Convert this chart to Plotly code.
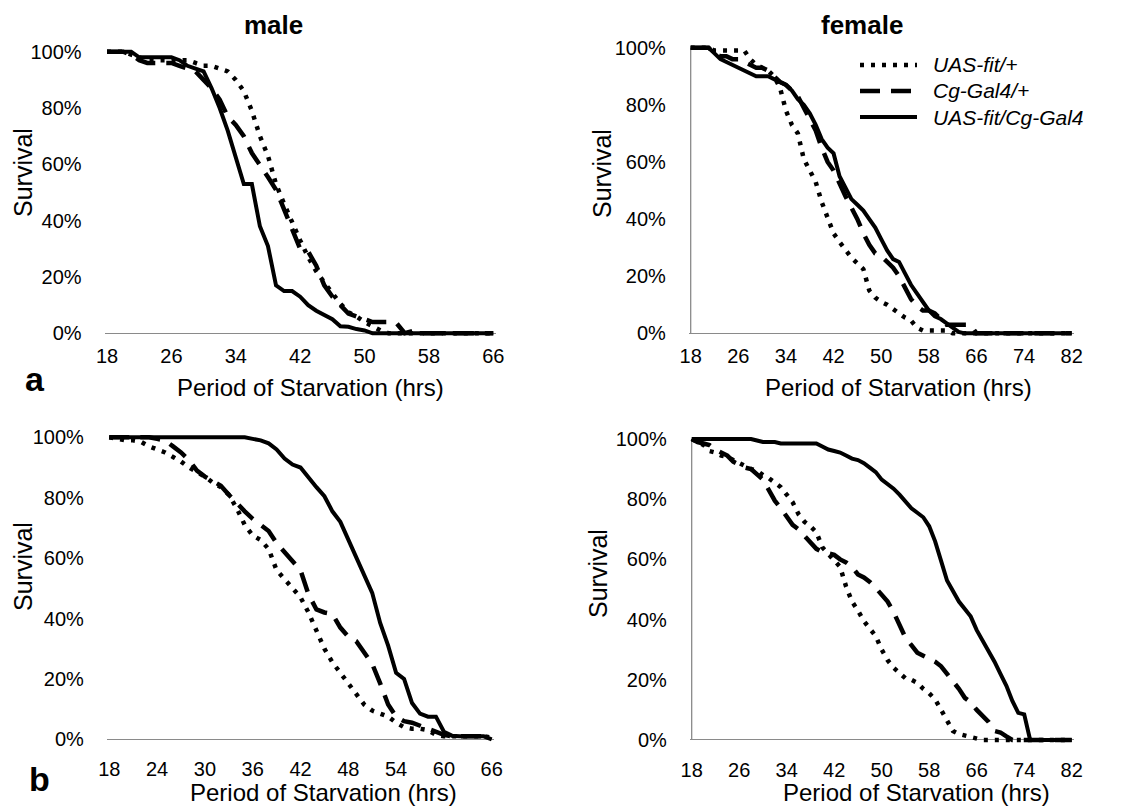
import plotly.graph_objects as go

W, H = 1144, 808
FONT = "Liberation Sans, Arial, sans-serif"

# ---------------- data (survival %) ----------------
series_names = ["UAS-fit/+", "Cg-Gal4/+", "UAS-fit/Cg-Gal4"]

# panel a, male (hours 18..66)
hours_a_male = list(range(18, 67))
a_male_uas = [100, 100, 100, 99, 98, 97, 97, 97, 97, 97, 97, 96, 95, 95, 94, 93, 90, 86, 79, 70,
              63, 53, 46, 39, 33, 27, 22, 18, 14, 10.5, 7.5, 6, 4, 2.5, 1,
              0, 0, 0, 0, 0, 0, 0, 0, 0, 0, 0, 0, 0, 0]
a_male_cg = [100, 100, 100, 99, 97, 96, 96, 96, 96, 95, 94, 93, 90, 87, 83, 77, 74, 70, 64, 60,
             55.5, 51, 44, 38, 30, 29, 24, 17, 13, 10, 7, 6, 5, 4, 4, 4, 3.5, 0, 0.8, 0,
             0, 0, 0, 0, 0, 0, 0, 0, 0]
a_male_cross = [100, 100, 100, 100, 98, 98, 98, 98, 98, 97, 95, 94, 93, 87, 80, 72, 63, 53, 53, 38,
                31, 17, 15, 15, 13, 10, 8, 6.5, 5, 2.5, 2.3, 1.5, 1, 0,
                0, 0, 0, 0, 0, 0, 0, 0, 0, 0, 0, 0, 0, 0, 0]

# panel a, female (hours 18..82)
hours_a_female = list(range(18, 83))
a_female_uas = [100, 100, 100, 100, 99, 99, 99, 99, 99, 99, 96, 94, 93, 92, 90, 86, 78, 73, 70, 61,
                57, 53, 46, 40, 35, 32, 29, 26.5, 24.5, 22.5, 15, 12.5, 11, 10, 8.5, 7, 5.5, 4.5, 2, 1,
                1, 1, 1, 1, 0,
                0, 0, 0, 0, 0, 0, 0, 0, 0, 0, 0, 0, 0, 0, 0, 0, 0, 0, 0, 0]
a_female_cg = [100, 100, 100, 100, 98, 97, 97, 96, 96, 95, 94, 93, 93, 92, 90, 88, 87, 85, 83, 79,
               75, 71, 65, 60, 57, 52, 48, 44, 40, 35, 31, 28, 27, 25, 23, 20, 16, 12, 9.5, 8,
               8, 7, 5, 3, 3, 3, 3, 3, 0,
               0, 0, 0, 0, 0, 0, 0, 0, 0, 0, 0, 0, 0, 0, 0, 0]
a_female_cross = [100, 100, 100, 100, 98, 96, 95, 94, 93, 92, 91, 90, 90, 90, 89, 88, 87, 85, 82, 80,
                  77, 73, 68, 65, 63, 55, 51, 47, 45, 43, 40, 37, 33, 29, 26, 25, 21, 17, 14, 11,
                  8, 6, 5, 3.5, 2, 0.5, 0,
                  0, 0, 0, 0, 0, 0, 0, 0, 0, 0, 0, 0, 0, 0, 0, 0, 0, 0]

# panel b, male (hours 18..66)
hours_b_male = list(range(18, 67))
b_male_uas = [100, 99.5, 99, 99, 98.5, 97, 96, 95, 93.5, 92, 90, 88.5, 87, 85, 83.5, 81, 76.5, 71, 67.5, 66,
              63, 56, 53, 50, 47, 42, 36, 30, 25.5, 22, 18, 15, 11.5, 9.5, 8.5, 7.5, 5.5, 4, 3.5, 3.5,
              3, 1.5, 1, 1, 1, 1, 1, 1, 0.5]
b_male_cg = [100, 100, 100, 100, 100, 100, 99.5, 99, 97, 95, 92.5, 89, 87, 85.5, 84, 81, 78, 75.5, 73, 71,
             69, 65, 62, 59, 56, 48, 43, 42, 41.5, 37, 34, 32.5, 29, 25, 18.5, 11.5, 7.5, 6, 5.5, 4.5,
             3.5, 2.5, 1.5, 1, 1, 1, 1, 1, 0.5]
b_male_cross = [100, 100, 100, 100, 100, 100, 100, 100, 100, 100, 100, 100, 100, 100, 100, 100, 100, 100,
                99.5, 99, 98, 96, 93, 91, 90, 86.5, 83.5, 80.5, 75.5, 72, 66, 60.5, 54.5, 48.5, 38.5, 31,
                22, 20, 12, 8.5, 7.5, 7.5, 2.5, 1.2, 1, 1, 1, 1, 0]

# panel b, female (hours 18..82)
hours_b_female = list(range(18, 83))
b_female_uas = [100, 99, 98, 96, 95.5, 94.5, 94, 93, 92, 91, 90, 89.5, 88, 87, 85.5, 84, 81.5, 79, 75, 72.5,
                71, 69, 64, 62, 59.5, 57.5, 51, 46, 43, 39.5, 37, 34.5, 30, 26.5, 24, 22, 20.5, 20, 19, 17,
                15.5, 13.5, 10, 6, 3, 2, 1.5, 1, 0.5, 0,
                0, 0, 0, 0, 0, 0, 0, 0, 0, 0, 0, 0, 0, 0, 0]
b_female_cg = [100, 99, 98.5, 98, 96.5, 95.5, 94.5, 92.5, 91.3, 90.5, 90, 88, 86.5, 83, 79.5, 77, 74, 71.5, 70, 68,
               66, 63.5, 62.5, 62, 61.5, 60, 59, 57.5, 55, 54, 52.5, 50.5, 48.5, 46, 42.5, 38, 34, 31.5, 29, 28,
               27, 26, 24.5, 22, 20, 17, 14, 12.5, 10, 8, 6, 3, 2.5, 1.2, 0,
               0, 0, 0, 0, 0, 0, 0, 0, 0, 0]
b_female_cross = [100, 100, 100, 100, 100, 100, 100, 100, 100, 100, 100,
                  99.5, 99, 99, 99, 98.5, 98.5, 98.5, 98.5, 98.5, 98.5, 98.5, 97.5, 96.5, 96, 95.5, 94.5,
                  93.5, 93, 92, 90.5, 89, 86.5, 85, 83.5, 81.5, 79, 77, 75.5, 74, 71, 66, 59.5, 53, 49.5,
                  46, 43.5, 41, 36.5, 33, 30, 26, 22, 18, 13, 9, 8.5, 0,
                  0, 0, 0, 0, 0, 0, 0]

x_ticks_a = [18, 26, 34, 42, 50, 58, 66]
x_ticks_female = [18, 26, 34, 42, 50, 58, 66, 74, 82]
x_ticks_b_male = [18, 24, 30, 36, 42, 48, 54, 60, 66]
y_ticks = [0, 0.2, 0.4, 0.6, 0.8, 1.0]
y_tick_text = ["0%", "20%", "40%", "60%", "80%", "100%"]

panels = [
    ("x", "y", hours_a_male, [a_male_uas, a_male_cg, a_male_cross]),
    ("x2", "y2", hours_a_female, [a_female_uas, a_female_cg, a_female_cross]),
    ("x3", "y3", hours_b_male, [b_male_uas, b_male_cg, b_male_cross]),
    ("x4", "y4", hours_b_female, [b_female_uas, b_female_cg, b_female_cross]),
]
for _, _, hrs, sers in panels:
    for s in sers:
        assert len(s) == len(hrs), (len(s), len(hrs))

# ---------------- styles ----------------
STYLES = [
    dict(color="black", width=4.5, dash="4px,7px"),
    dict(color="black", width=4.5, dash="20px,11px"),
    dict(color="black", width=4),
]

fig = go.Figure()
for xa, ya, hrs, sers in panels:
    for name, vals, st in zip(series_names, sers, STYLES):
        fig.add_trace(go.Scatter(
            x=hrs, y=[v / 100 for v in vals], mode="lines", name=name,
            line=st, xaxis=xa, yaxis=ya, showlegend=False,
            hovertemplate="%{x} h: %{y:.0%}<extra>" + name + "</extra>",
        ))

def px_x(p):
    return p / W

def px_y(p):
    return 1 - p / H

# axis geometry (pixel domains)
geo = {
    "": dict(xd=(104.6, 495.7), yd=(336.1, 46.1), xr=(17.7, 66.3), ticks=x_ticks_a, xstand=6),
    "2": dict(xd=(688.9, 1073.5), yd=(336.2, 42.0), xr=(17.7, 82.3), ticks=x_ticks_female, xstand=6),
    "3": dict(xd=(106.9, 494.1), yd=(742.3, 431.3), xr=(17.7, 66.3), ticks=x_ticks_b_male, xstand=13),
    "4": dict(xd=(689.9, 1073.5), yd=(743.0, 433.0), xr=(17.7, 82.3), ticks=x_ticks_female, xstand=13),
}
tickfont = dict(family=FONT, size=20, color="black")
for k, g in geo.items():
    fig.update_layout(**{
        "xaxis" + k: dict(
            domain=[px_x(g["xd"][0]), px_x(g["xd"][1])], range=list(g["xr"]),
            anchor="y" + k, tickvals=g["ticks"], ticktext=[str(t) for t in g["ticks"]],
            showgrid=False, zeroline=False, showline=False, ticks="", automargin=False,
            tickfont=tickfont, ticklabelstandoff=g["xstand"], fixedrange=True,
        ),
        "yaxis" + k: dict(
            domain=[px_y(g["yd"][0]), px_y(g["yd"][1])], range=[-0.01, 1.02],
            anchor="x" + k, tickvals=y_ticks, ticktext=y_tick_text,
            showgrid=False, zeroline=True, zerolinecolor="#8a8a8a", zerolinewidth=1.3,
            showline=False, ticks="", tickfont=tickfont, ticklabelstandoff=22,
            automargin=False, fixedrange=True,
        ),
    })

# vertical axis lines on female panels
shapes = []
for k in ["2", "4"]:
    shapes.append(dict(type="line", xref="x" + k, yref="y" + k, x0=18, x1=18, y0=0, y1=1,
                       line=dict(color="#8a8a8a", width=1.3), layer="below"))

# custom legend (top-right panel)
legend_rows = [65, 91, 117]
for yy, st in zip(legend_rows, STYLES):
    shapes.append(dict(type="line", xref="paper", yref="paper",
                       x0=px_x(860), x1=px_x(917), y0=px_y(yy), y1=px_y(yy), line=st))

annotations = []
def ann(text, x, y, size, bold=False, italic=False, angle=0, xanchor="center"):
    t = text
    if bold:
        t = "<b>" + t + "</b>"
    if italic:
        t = "<i>" + t + "</i>"
    annotations.append(dict(text=t, x=px_x(x), y=px_y(y), xref="paper", yref="paper",
                            showarrow=False, xanchor=xanchor, yanchor="middle",
                            textangle=angle, font=dict(family=FONT, size=size, color="black")))

for yy, name in zip(legend_rows, series_names):
    ann(name, 931, yy, 21, italic=True, xanchor="left")

ann("male", 273, 25, 26, bold=True)
ann("female", 862, 25, 26, bold=True)
ann("a", 35, 379, 34, bold=True)
ann("b", 39, 779, 34, bold=True)
for x, y in [(310, 387), (898, 387), (323, 792), (916, 792)]:
    ann("Period of Starvation (hrs)", x, y, 24)
for x, y in [(23, 173), (602, 174), (23, 567), (598, 574)]:
    ann("Survival", x, y, 25, angle=-90)

fig.update_layout(
    template="none",
    width=W, height=H, margin=dict(l=0, r=0, t=0, b=0, autoexpand=False),
    paper_bgcolor="white", plot_bgcolor="white",
    shapes=shapes, annotations=annotations, showlegend=False,
    font=dict(family=FONT, color="black"),
)

fig.write_html("out.html", config={"displayModeBar": False})
